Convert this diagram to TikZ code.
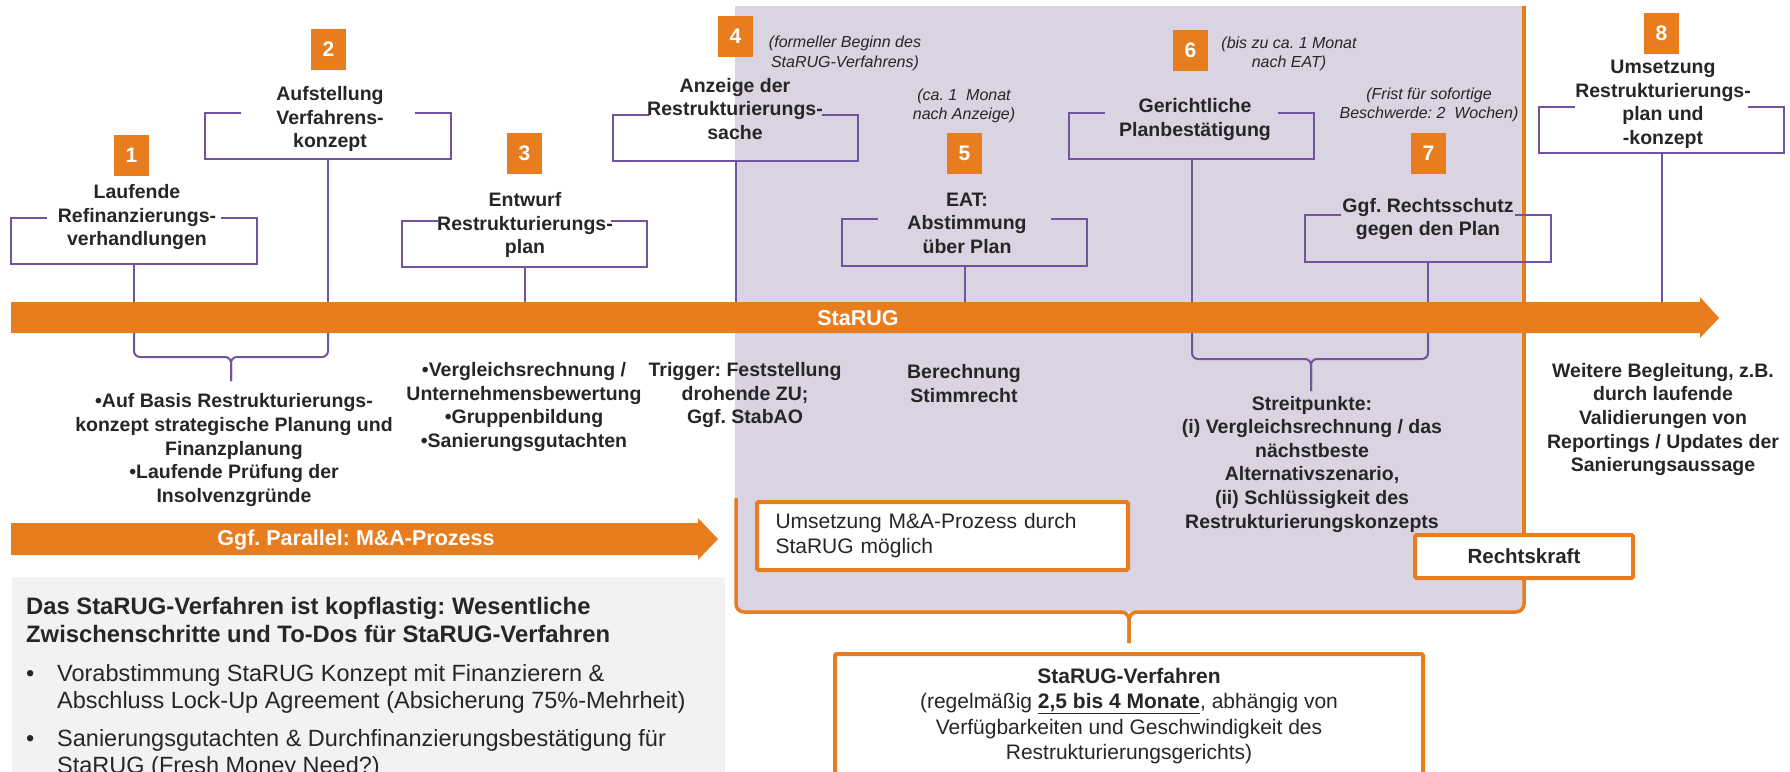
\documentclass[tikz,border=0pt]{standalone}
\usepackage{fontspec}
\setmainfont{Liberation Sans}
\usetikzlibrary{positioning}
\frenchspacing

\definecolor{stOrange}{RGB}{232,125,31}
\definecolor{stLilac}{RGB}{112,84,160}
\definecolor{stShade}{RGB}{217,211,226}
\definecolor{stGrey}{RGB}{242,242,242}
\definecolor{stText}{RGB}{38,38,38}

\tikzset{
  numbox/.style={fill=stOrange, text=white, font=\bfseries\fontsize{21}{21}\selectfont,
    minimum width=35pt, minimum height=41pt, inner sep=0pt},
  stepframe/.style={minimum width=245pt, minimum height=46pt, inner sep=0pt},
  steplabel/.style={align=center, text=stText, font=\bfseries\fontsize{19.5}{23.6}\selectfont, inner sep=0pt},
  remark/.style={align=center, text=stText, font=\itshape\fontsize{16}{19.5}\selectfont, inner sep=0pt},
  arrowtext/.style={text=white, font=\bfseries\fontsize{21.5}{21.5}\selectfont, inner sep=0pt},
  framedraw/.style={draw=stLilac, line width=2pt},
  stemline/.style={draw=stLilac, line width=2pt},
  orangeline/.style={draw=stOrange, line width=3.5pt},
  obox/.style={draw=stOrange, fill=white, line width=4pt, rounded corners=1.5pt, inner sep=0pt, text=stText},
}
\newcommand\openframe[1]{\draw[framedraw] ([xshift=36pt]#1.north west) -- (#1.north west)
  -- (#1.south west) -- (#1.south east) -- (#1.north east) -- ([xshift=-36pt]#1.north east);}

\begin{document}
\begin{tikzpicture}[x=1pt, y=-1pt]
\useasboundingbox (0,0) rectangle (1790,771);
\clip (0,0) rectangle (1790,771);

\fill[stShade] (735,6) -- (1524,6) -- (1524,400) [rounded corners=8pt] -- (1524,612) -- (735,612) -- (735,400) [sharp corners] -- cycle;
\fill[stGrey] (12,577) rectangle (725,800);

\coordinate (tl) at (11,302);
\fill[stOrange] (tl) -- (1700,302) -- (1700,297) -- (1719,318) -- (1700,338) -- (1700,333) -- (11,333) -- cycle;
\fill[stOrange] (11,523) -- (698,523) -- (698,518) -- (718,539) -- (698,560) -- (698,555) -- (11,555) -- cycle;
\node[arrowtext] (starug) at (858,318) {StaRUG};
\node[arrowtext] (ma) at (356,540) {Ggf. Parallel: M\&A-Prozess};

\draw[orangeline] (1524,6) -- (1524,533);
\draw[orangeline, rounded corners=8pt] (736,498) |- (1129,612) -- (1129,643);
\draw[orangeline, rounded corners=8pt] (1524,580) |- (1129,612) -- (1129,643);

\begin{scope}[every node/.style={stepframe}]
  \node (f1) at (134,241) {};
  \node (f2) at (328,136) {};
  \node (f3) at (524.5,244) {};
  \node (f4) at (735.5,138) {};
  \node (f5) at (964.5,242.5) {};
  \node (f6) at (1191.5,136) {};
  \node (f7) at (1428,238.5) {};
  \node (f8) at (1661.5,130) {};
\end{scope}
\foreach \f in {f1,f2,f3,f4,f5,f6,f7,f8}{
  \openframe{\f}
  \draw[stemline] (\f.south) -- (\f.south |- tl);
}

\draw[stemline, rounded corners=6pt] (134,333) |- (231,357) -- (231,381);
\draw[stemline, rounded corners=6pt] (328,333) |- (231,357) -- (231,381);
\draw[stemline, rounded corners=6pt] (1192,333) |- (1311,359) -- (1311,391);
\draw[stemline, rounded corners=6pt] (1428,333) |- (1311,359) -- (1311,391);

\begin{scope}[every node/.style={numbox}]
  \node (n1) at (131.5,155.5) {1};
  \node (n2) at (328.5,49.5) {2};
  \node (n3) at (524.5,153) {3};
  \node (n4) at (735.5,36.5) {4};
  \node (n5) at (964.5,153) {5};
  \node (n6) at (1190.5,50) {6};
  \node (n7) at (1428.5,153) {7};
  \node (n8) at (1661.5,33) {8};
\end{scope}

\begin{scope}[every node/.style={steplabel}]
  \node (l1) at (137,217) {Laufende\\Refinanzierungs-\\verhandlungen};
  \node (l2) at (330,119) {Aufstellung\\Verfahrens-\\konzept};
  \node (l3) at (525,225) {Entwurf\\Restrukturierungs-\\plan};
  \node (l4) at (735,109) {Anzeige der\\Restrukturierungs-\\sache};
  \node (l5) at (967,223) {EAT:\\Abstimmung\\über Plan};
  \node (l6) at (1195,119.5) {Gerichtliche\\Planbestätigung};
  \node (l7) at (1428,219) {Ggf. Rechtsschutz\\gegen den Plan};
  \node (l8) at (1663,104.5) {Umsetzung\\Restrukturierungs-\\plan und\\-konzept};
  \node (d1) at (234,450) {\textbullet Auf Basis Restrukturierungs-\\konzept strategische Planung und\\Finanzplanung\\\textbullet Laufende Prüfung der\\Insolvenzgründe};
  \node (d3) at (524,407) {\textbullet Vergleichsrechnung /\\Unternehmensbewertung\\\textbullet Gruppenbildung\\\textbullet Sanierungsgutachten};
  \node (d4) at (745,395) {Trigger: Feststellung\\drohende ZU;\\Ggf. StabAO};
  \node (d5) at (964,383.5) {Berechnung\\Stimmrecht};
  \node (d6) at (1312,464) {Streitpunkte:\\(i) Vergleichsrechnung / das\\nächstbeste\\Alternativszenario,\\(ii) Schlüssigkeit des\\Restrukturierungskonzepts};
  \node (d8) at (1663,419.5) {Weitere Begleitung, z.B.\\durch laufende\\Validierungen von\\Reportings / Updates der\\Sanierungsaussage};
\end{scope}

\begin{scope}[every node/.style={remark}]
  \node (r4) at (845,53.5) {(formeller Beginn des\\StaRUG-Verfahrens)};
  \node (r5) at (964,106) {(ca. 1\ \ Monat\\nach Anzeige)};
  \node (r6) at (1289,54) {(bis zu ca. 1 Monat\\nach EAT)};
  \node (r7) at (1429,105) {(Frist für sofortige\\Beschwerde: 2\ \ Wochen)};
\end{scope}

\node[obox, minimum width=371pt, minimum height=68pt, text width=334pt, align=left,
  font=\fontsize{21}{25}\selectfont] (mabox) at (942.5,536) {Umsetzung M\&A-Prozess durch\\StaRUG möglich};
\node[obox, minimum width=218pt, minimum height=43pt, font=\bfseries\fontsize{20.5}{24}\selectfont]
  (rk) at (1524,556.5) {Rechtskraft};
\node[obox, minimum width=588pt, minimum height=124pt, align=center, font=\fontsize{21}{25.5}\selectfont]
  (sv) at (1129,716) {\textbf{StaRUG-Verfahren}\\(regelmäßig \textbf{\underline{2,5 bis 4 Monate}}, abhängig von\\Verfügbarkeiten und Geschwindigkeit des\\Restrukturierungsgerichts)};

\node[anchor=base west, align=left, inner sep=0pt, text=stText, font=\bfseries\fontsize{23.8}{28}\selectfont]
  (gtitle) at (26,642.5) {Das StaRUG-Verfahren ist kopflastig: Wesentliche\\Zwischenschritte und To-Dos für StaRUG-Verfahren};
\node[anchor=base west, inner sep=0pt, text=stText, font=\fontsize{23.5}{27}\selectfont]
  (glist) at (26,681.5) {\begin{tabular}[t]{@{}p{31pt}@{}l@{}}
    \textbullet & Vorabstimmung StaRUG Konzept mit Finanzierern \&\\
    & Abschluss Lock-Up Agreement (Absicherung 75\%-Mehrheit)\\[11pt]
    \textbullet & Sanierungsgutachten \& Durchfinanzierungsbestätigung für\\
    & StaRUG (Fresh Money Need?)
  \end{tabular}};
\end{tikzpicture}
\end{document}
